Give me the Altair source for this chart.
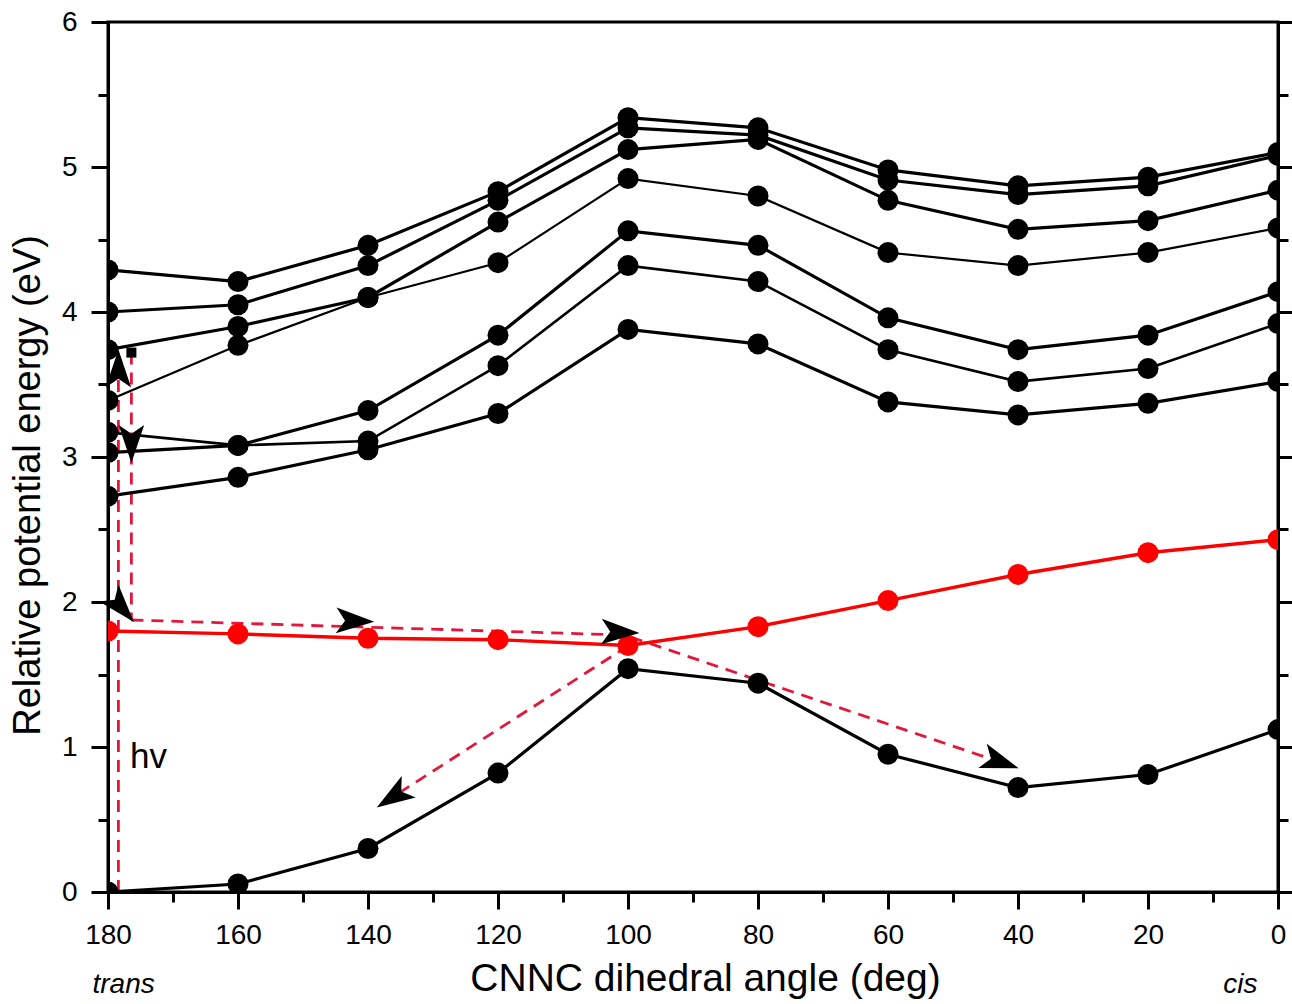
import altair as alt
import pandas as pd

# ---------------- data ----------------
angles = [180, 160, 140, 120, 100, 80, 60, 40, 20, 0]
s1 = [4.29, 4.21, 4.46, 4.83, 5.34, 5.27, 4.98, 4.87, 4.93, 5.10]
s2 = [4.00, 4.05, 4.32, 4.77, 5.27, 5.22, 4.91, 4.81, 4.87, 5.08]
s3 = [3.74, 3.90, 4.10, 4.62, 5.12, 5.19, 4.77, 4.57, 4.63, 4.84]
s4 = [3.39, 3.77, 4.10, 4.34, 4.92, 4.80, 4.41, 4.32, 4.41, 4.58]
s5 = [3.03, 3.08, 3.32, 3.84, 4.56, 4.46, 3.96, 3.74, 3.84, 4.14]
s6 = [3.17, 3.08, 3.11, 3.63, 4.32, 4.21, 3.74, 3.52, 3.61, 3.92]
s7 = [2.73, 2.86, 3.05, 3.30, 3.88, 3.78, 3.38, 3.29, 3.37, 3.52]
red_state = [1.80, 1.78, 1.75, 1.74, 1.70, 1.83, 2.01, 2.19, 2.34, 2.43]
ground = [0.0, 0.055, 0.30, 0.82, 1.54, 1.44, 0.95, 0.72, 0.81, 1.12]

series_names = ["S1", "S2", "S3", "S4", "S5", "S6", "S7", "red", "ground"]
series_vals = [s1, s2, s3, s4, s5, s6, s7, red_state, ground]
series_colors = ["black"] * 7 + ["#ff0000", "black"]
series_widths = [3.2, 3.2, 3.2, 2.2, 3.2, 2.6, 3.2, 3.4, 3.2]

# dashed reaction paths (angle, energy)
path_names = ["up", "down", "relax", "back"]
path_x = [[178.4, 178.4], [176.4, 176.4], [176.4, 100.5, 42.8], [100.0, 136.2]]
path_y = [[0.0, 3.60], [3.72, 1.876], [1.876, 1.772, 0.897], [1.697, 0.655]]

# arrowheads (angle, energy, direction in degrees clockwise from up)
arrow_x = [178.4, 176.4, 178.1, 142.2, 101.4, 42.9, 136.0]
arrow_y = [3.60, 3.10, 1.97, 1.869, 1.792, 0.90, 0.66]
arrow_dir = [0, 180, 139, 92, 92, 109, 237]

# text annotations
hv_pos = (176.6, 0.93)
trans_pos = (177.6, -0.64)
cis_pos = (5.8, -0.64)

# ---------------- tables ----------------
curves = pd.DataFrame(
    [
        {"x": a, "y": v, "s": n, "c": c, "w": w}
        for n, vals, c, w in zip(series_names, series_vals, series_colors, series_widths)
        for a, v in zip(angles, vals)
    ]
)
paths = pd.DataFrame(
    [
        {"x": xx, "y": yy, "p": n, "i": i}
        for n, xs, ys in zip(path_names, path_x, path_y)
        for i, (xx, yy) in enumerate(zip(xs, ys))
    ]
)
arrows = pd.DataFrame({"x": arrow_x, "y": arrow_y, "a": arrow_dir})
square = pd.DataFrame({"x": [176.4], "y": [3.72]})
hv_df = pd.DataFrame({"x": [hv_pos[0]], "y": [hv_pos[1]], "t": ["hv"]})
ends_df = pd.DataFrame(
    {"x": [trans_pos[0], cis_pos[0]], "y": [trans_pos[1], cis_pos[1]], "t": ["trans", "cis"]}
)

FONT = "Liberation Sans"

X = alt.X(
    "x:Q",
    scale=alt.Scale(domain=[0, 180], reverse=True, nice=False, zero=False),
    axis=alt.Axis(
        values=list(range(0, 181, 10)),
        labelExpr="datum.value % 20 === 0 ? datum.label : ''",
        tickSize={"condition": {"test": "datum.value % 20 === 0", "value": 17}, "value": 10},
        tickWidth=3,
        tickColor="black",
        domainColor="black",
        domainWidth=3,
        labelFontSize=28,
        labelFont=FONT,
        labelColor="black",
        labelPadding=12,
        labelFlush=False,
        grid=False,
        title="CNNC dihedral angle (deg)",
        titleFontSize=39,
        titleFont=FONT,
        titleFontWeight="normal",
        titleColor="black",
        titleX=597,
        titleY=86,
        titleAlign="center",
        titleBaseline="middle",
    ),
)

Y = alt.Y(
    "y:Q",
    scale=alt.Scale(domain=[0, 6], nice=False, zero=False),
    axis=alt.Axis(
        values=[i * 0.5 for i in range(13)],
        labelExpr="datum.value % 1 === 0 ? format(datum.value, 'd') : ''",
        tickSize={"condition": {"test": "datum.value % 1 === 0", "value": 17}, "value": 10},
        tickWidth=3,
        tickColor="black",
        domainColor="black",
        domainWidth=3,
        labelFontSize=28,
        labelFont=FONT,
        labelColor="black",
        labelPadding=14,
        labelFlush=False,
        grid=False,
        title="Relative potential energy (eV)",
        titleFontSize=38,
        titleFont=FONT,
        titleFontWeight="normal",
        titleColor="black",
        titleX=-80,
        titleY=463,
        titleAngle=270,
        titleAlign="center",
        titleBaseline="middle",
    ),
)

Y_right = alt.Y(
    "y:Q",
    scale=alt.Scale(domain=[0, 6], nice=False, zero=False),
    axis=alt.Axis(
        orient="right",
        values=[i * 0.5 for i in range(13)],
        tickSize={"condition": {"test": "datum.value % 1 === 0", "value": 15}, "value": 10},
        tickWidth=3,
        tickColor="black",
        domainColor="black",
        domainWidth=3,
        labels=False,
        grid=False,
        title=None,
    ),
)

dashed = (
    alt.Chart(paths)
    .mark_line(color="#e3173c", strokeWidth=2.8, strokeDash=[12, 8])
    .encode(x=X, y=Y, detail="p:N", order="i:Q")
)

lines = (
    alt.Chart(curves)
    .mark_line(clip=True)
    .encode(
        x=X,
        y=Y,
        detail="s:N",
        color=alt.Color("c:N", scale=None),
        strokeWidth=alt.StrokeWidth("w:Q", scale=None),
    )
)

dots = (
    alt.Chart(curves)
    .mark_circle(size=440, opacity=1, clip=True)
    .encode(x=X, y=Y, color=alt.Color("c:N", scale=None))
)

heads = (
    alt.Chart(arrows)
    .mark_point(
        shape="M0,-1 L0.62,0.85 L0,0.42 L-0.62,0.85 Z",
        filled=True,
        color="black",
        opacity=1,
        size=1700,
        strokeWidth=0,
    )
    .encode(x=X, y=Y, angle=alt.Angle("a:Q", scale=None))
)

sq = (
    alt.Chart(square)
    .mark_point(shape="square", filled=True, color="black", opacity=1, size=100)
    .encode(x=X, y=Y)
)

hv_text = (
    alt.Chart(hv_df)
    .mark_text(font=FONT, color="black", baseline="middle", align="left", fontSize=35)
    .encode(x=X, y=Y, text="t:N")
)

ends_text = (
    alt.Chart(ends_df)
    .mark_text(font=FONT, color="black", baseline="middle", align="center",
               fontSize=28, fontStyle="italic")
    .encode(x=X, y=Y, text="t:N")
)

main = alt.layer(dashed, lines, dots, heads, sq, hv_text, ends_text)

right_axis = (
    alt.Chart(pd.DataFrame({"x": [90.0], "y": [3.0]}))
    .mark_point(opacity=0)
    .encode(x=X, y=Y_right)
)

chart = (
    alt.layer(main, right_axis)
    .resolve_scale(y="independent")
    .resolve_axis(y="independent")
    .properties(
        width=1170,
        height=870,
        autosize=alt.AutoSizeParams(type="none"),
        padding={"left": 108, "top": 22, "right": 14, "bottom": 112},
        background="white",
    )
    .configure_view(stroke="black", strokeWidth=3)
)

chart.save("out.html", embed_options={"renderer": "svg", "actions": False})
